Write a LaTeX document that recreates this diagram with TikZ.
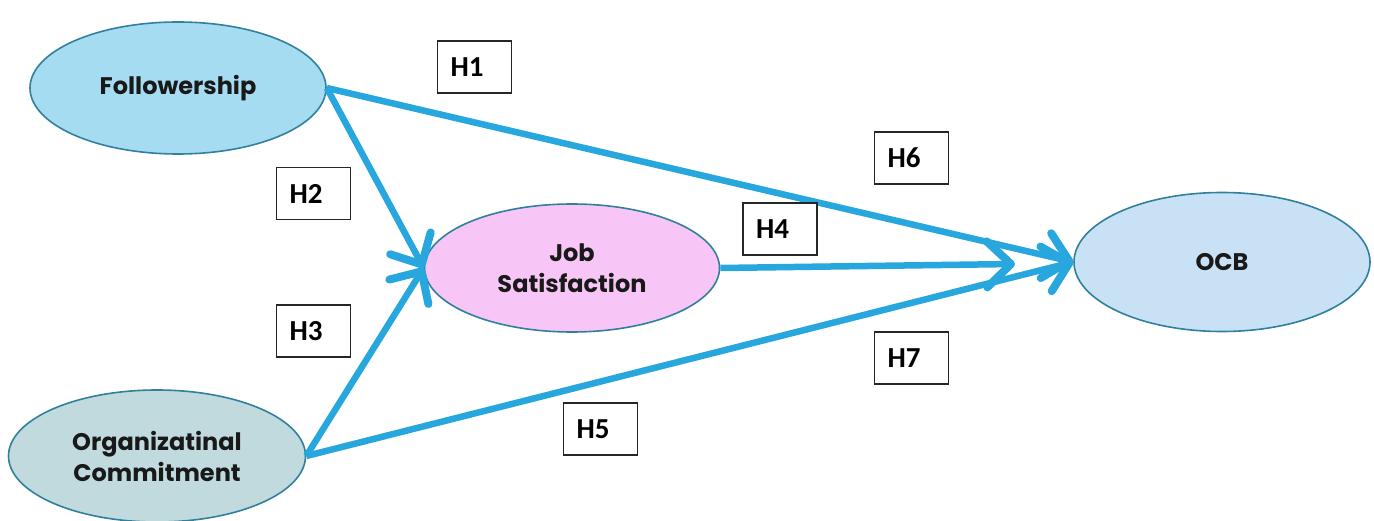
\documentclass[tikz,border=0pt]{standalone}
\usepackage{fontspec}
\newfontfamily\gfont{Poppins}
\newfontfamily\hfont{Carlito}
\usetikzlibrary{shapes.geometric,arrows.meta}
\definecolor{linkblue}{HTML}{28A7DF}
\definecolor{rimteal}{HTML}{31809C}
\definecolor{fillfol}{HTML}{A6DCF2}
\definecolor{fillorg}{HTML}{C0DADE}
\definecolor{filljob}{HTML}{F8C6F6}
\definecolor{fillocb}{HTML}{C9E1F5}
\tikzset{
  construct/.style={ellipse, draw=rimteal, line width=1.6pt, inner sep=0pt,
    font=\gfont\bfseries\fontsize{24}{31}\selectfont, align=center, text=black!90},
  hbox/.style={draw=black!85, line width=1.3pt, fill=white, minimum height=52pt,
    text width=48pt, inner xsep=13pt, inner ysep=0pt, align=left,
    font=\hfont\bfseries\fontsize{29}{32}\selectfont},
  link/.style={draw=linkblue, line width=6.5pt,
    -{Straight Barb[length=24pt,width=46pt,line width=8pt,line cap=round,line join=round]}}
}
\begin{document}
\begin{tikzpicture}[x=1pt,y=-1pt]
\useasboundingbox (0,0) rectangle (1374,521);
\node[construct, fill=fillfol, minimum width=296pt, minimum height=132pt] (F) at (178,88) {Followership};
\node[construct, fill=fillorg, minimum width=297pt, minimum height=132pt] (O) at (157,456) {Organizatinal\\Commitment};
\node[construct, fill=filljob, minimum width=295pt, minimum height=128pt] (J) at (572,268) {Job\\Satisfaction};
\node[construct, fill=fillocb, minimum width=296pt, minimum height=139pt] (C) at (1222,262) {OCB};
\coordinate (jt) at (1015,264);
\draw[link] (F.east) -- (C.west);
\draw[link] (O.east) -- (C.west);
\draw[link] (F.east) -- (J.west);
\draw[link] (O.east) -- (J.west);
\draw[link] (J.east) -- (jt);
\node[hbox] (h1) at (474.5,67) {H1};
\node[hbox] (h2) at (313.5,193.5) {H2};
\node[hbox] (h3) at (313.5,331) {H3};
\node[hbox] (h4) at (780,229) {H4};
\node[hbox] (h5) at (600.5,429) {H5};
\node[hbox] (h6) at (911.5,158) {H6};
\node[hbox] (h7) at (911.5,358) {H7};
\end{tikzpicture}
\end{document}
